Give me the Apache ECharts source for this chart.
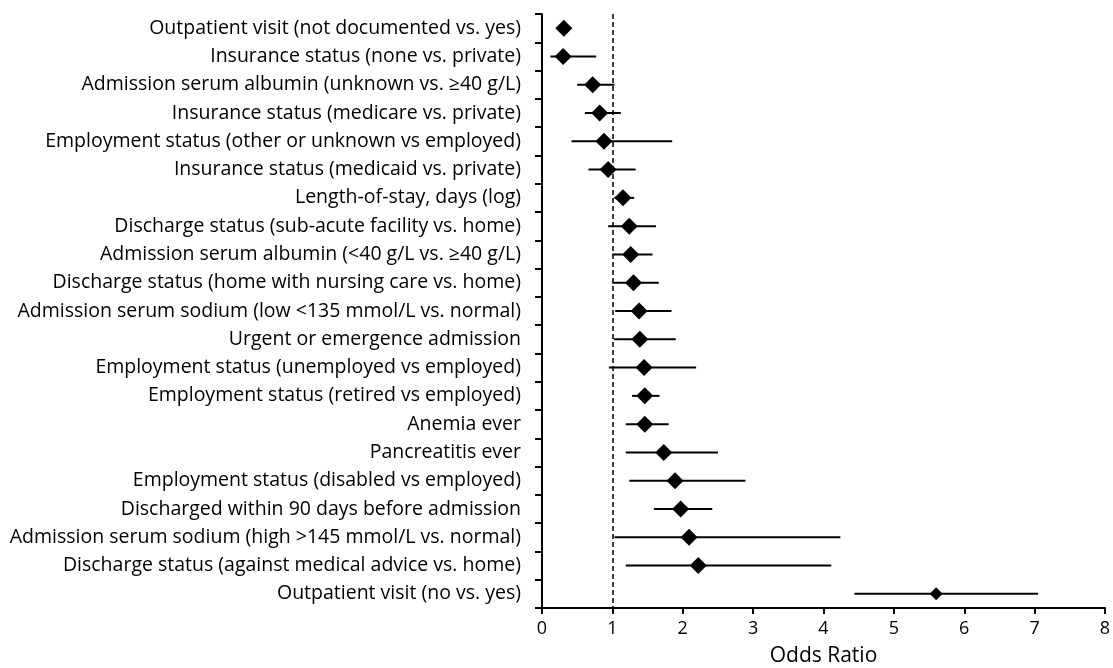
<!DOCTYPE html>
<html>
<head>
<meta charset="utf-8">
<script src="https://cdn.jsdelivr.net/npm/echarts@6/dist/echarts.min.js"></script>
<style>
  html, body { margin: 0; padding: 0; background: #fff; }
  #chart { width: 1113px; height: 668px; }
</style>
</head>
<body>
<div id="chart"></div>
<script>
// rows, top to bottom
var labels = [
  'Outpatient visit (not documented vs. yes)',
  'Insurance status (none vs. private)',
  'Admission serum albumin (unknown vs. \u226540 g/L)',
  'Insurance status (medicare vs. private)',
  'Employment status (other or unknown vs employed)',
  'Insurance status (medicaid vs. private)',
  'Length-of-stay, days (log)',
  'Discharge status (sub-acute facility vs. home)',
  'Admission serum albumin (<40 g/L vs. \u226540 g/L)',
  'Discharge status (home with nursing care vs. home)',
  'Admission serum sodium (low <135 mmol/L vs. normal)',
  'Urgent or emergence admission',
  'Employment status (unemployed vs employed)',
  'Employment status (retired vs employed)',
  'Anemia ever',
  'Pancreatitis ever',
  'Employment status (disabled vs employed)',
  'Discharged within 90 days before admission',
  'Admission serum sodium (high >145 mmol/L vs. normal)',
  'Discharge status (against medical advice vs. home)',
  'Outpatient visit (no vs. yes)'
];
var oddsRatio = [0.31, 0.30, 0.72, 0.82, 0.88, 0.94, 1.15, 1.24, 1.26, 1.30, 1.38, 1.39, 1.45, 1.46, 1.46, 1.73, 1.89, 1.97, 2.09, 2.22, 5.60];
var ciLow    = [0.27, 0.12, 0.50, 0.61, 0.42, 0.66, 1.03, 0.94, 1.00, 1.00, 1.04, 1.02, 0.95, 1.28, 1.19, 1.19, 1.24, 1.59, 1.03, 1.19, 4.44];
var ciHigh   = [0.36, 0.77, 1.03, 1.12, 1.85, 1.33, 1.31, 1.62, 1.57, 1.66, 1.84, 1.90, 2.19, 1.67, 1.80, 2.50, 2.89, 2.42, 4.24, 4.11, 7.05];
var xTicks = { min: 0, max: 8, interval: 1 };
var refLine = 1;

var font = '"Open Sans", "Noto Sans", sans-serif';

var ciData = labels.map(function (l, i) { return [ciLow[i], ciHigh[i], i]; });
var pointData = labels.map(function (l, i) {
  var item = { value: [oddsRatio[i], i] };
  if (i === labels.length - 1) item.symbolSize = 13;
  return item;
});

var chart = echarts.init(document.getElementById('chart'));
chart.setOption({
  animation: false,
  grid: { left: 542, right: 8, top: 14, bottom: 60, outerBoundsMode: 'none', containLabel: false },
  xAxis: {
    type: 'value',
    min: xTicks.min,
    max: xTicks.max,
    interval: xTicks.interval,
    name: 'Odds Ratio',
    nameLocation: 'middle',
    nameGap: 38,
    nameTextStyle: { color: '#000', fontSize: 21, fontFamily: font },
    axisLine: { show: true, lineStyle: { color: '#000', width: 2 } },
    axisTick: { show: true, length: 6, lineStyle: { color: '#000', width: 2 } },
    axisLabel: { color: '#000', fontSize: 18, fontFamily: font, margin: 12 },
    splitLine: { show: false }
  },
  yAxis: {
    type: 'category',
    inverse: true,
    data: labels,
    axisLine: { show: true, lineStyle: { color: '#000', width: 2 } },
    axisTick: { show: true, length: 7, lineStyle: { color: '#000', width: 2 } },
    axisLabel: { color: '#000', fontSize: 19.5, fontFamily: font, margin: 21 },
    splitLine: { show: false }
  },
  series: [
    {
      type: 'custom',
      data: ciData,
      encode: { x: [0, 1], y: 2 },
      renderItem: function (params, api) {
        var p1 = api.coord([api.value(0), api.value(2)]);
        var p2 = api.coord([api.value(1), api.value(2)]);
        return {
          type: 'line',
          shape: { x1: p1[0], y1: p1[1], x2: p2[0], y2: p2[1] },
          style: { stroke: '#000', lineWidth: 2 }
        };
      },
      z: 2
    },
    {
      type: 'scatter',
      data: pointData,
      symbol: 'diamond',
      symbolSize: 17,
      itemStyle: { color: '#000', opacity: 1 },
      z: 3,
      markLine: {
        silent: true,
        symbol: 'none',
        label: { show: false },
        lineStyle: { color: '#000', type: [5, 3], width: 1.5 },
        data: [{ xAxis: refLine }]
      }
    }
  ]
});
</script>
</body>
</html>
